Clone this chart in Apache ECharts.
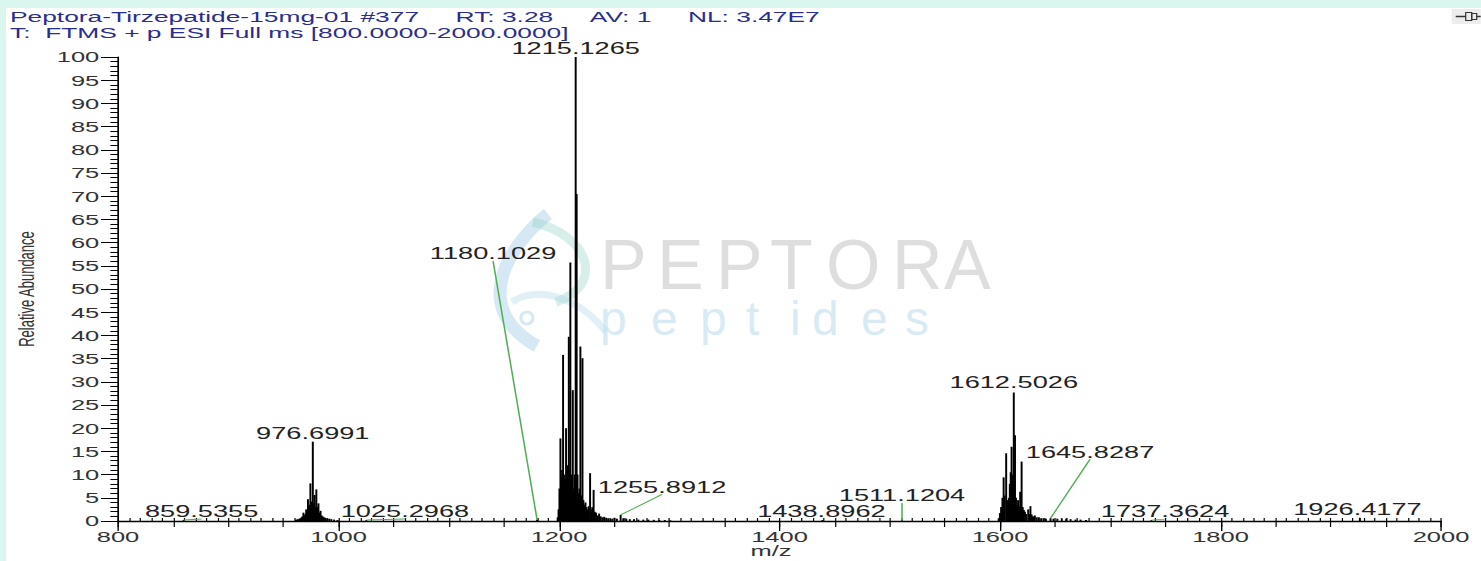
<!DOCTYPE html>
<html>
<head>
<meta charset="utf-8">
<script src="https://cdn.jsdelivr.net/npm/echarts@6/dist/echarts.min.js"></script>
<style>
html,body{margin:0;padding:0;width:1481px;height:561px;overflow:hidden;background:#d9f7ef;}
#panel{position:absolute;left:6px;top:8px;right:0;bottom:0;background:#ffffff;}
#chart{position:absolute;left:0;top:0;width:871px;height:561px;transform-origin:0 0;transform:scaleX(1.700344);}
</style>
</head>
<body>
<div id="panel"></div>
<div id="chart"></div>
<script>
// ---------------- DATA ----------------
const titleLine1 = 'Peptora-Tirzepatide-15mg-01 #377\u00a0\u00a0\u00a0\u00a0\u00a0RT: 3.28\u00a0\u00a0\u00a0\u00a0\u00a0AV: 1\u00a0\u00a0\u00a0\u00a0\u00a0NL: 3.47E7';
const titleLine2 = 'T:\u00a0 FTMS + p ESI Full ms [800.0000-2000.0000]';
const xAxisName = 'm/z';
const yAxisName = 'Relative Abundance';
const xRange = [800, 2000];
const xLabelStep = 200;
const yRange = [0, 100];
const yLabelStep = 5;
const watermarkWord = 'PEPTORA';
const watermarkSub = 'peptides';

// [m/z, relative abundance]
const cluster976 = [
  [961.5,0.3],[963.0,0.4],[964.5,0.5],[965.6,0.6],[966.5,0.8],[967.3,1.0],[968.2,1.8],[969.1,1.2],
  [970.0,1.5],[970.7,2.5],[971.5,1.6],[972.3,4.7],[973.1,3.0],[973.8,3.5],[974.5,8.1],[975.3,3.2],
  [975.9,4.2],[976.6991,17.1],[977.5,3.8],[978.3,5.6],[979.0,3.0],[979.9,6.8],[980.8,3.0],[981.8,3.8],
  [982.7,1.8],[983.7,2.2],[984.6,1.2],[985.6,1.0],[986.8,0.8],[988.2,0.7],[989.8,0.5],[991.6,0.5],
  [993.5,0.4],[996.0,0.3],[999.0,0.2]
];
const cluster1215 = [
  [1198.8,0.8],[1199.6,2.5],[1200.4,7.0],[1201.3,17.8],[1202.0,9.0],[1202.8,11.0],[1203.7,35.8],
  [1204.5,10.0],[1205.3,9.0],[1206.4,20.0],[1207.2,10.0],[1208.0,12.0],[1208.9,39.7],[1209.6,11.0],
  [1210.3,55.7],[1211.1,10.0],[1211.8,8.0],[1212.5,28.2],[1213.3,7.0],[1214.2,10.0],[1215.1265,100],
  [1216.0,70.5],[1216.8,10.0],[1217.6,6.0],[1218.5,7.0],[1219.4,37.6],[1220.3,5.5],[1221.3,35.1],
  [1222.1,4.5],[1223.0,3.5],[1224.0,4.0],[1225.0,3.0],[1226.0,2.5],[1227.0,3.2],[1228.2,10.3],
  [1229.2,2.5],[1230.2,3.0],[1231.4,6.7],[1232.4,2.0],[1233.6,1.8],[1235.0,1.2],[1236.4,1.6],
  [1237.8,1.0],[1239.4,0.8],[1241.0,0.9],[1242.8,0.7],[1244.6,0.6],[1246.5,0.6],[1248.4,0.5],
  [1250.3,0.7],[1252.5,0.5],[1255.8912,1.3],[1258.3,0.6],[1261.0,0.5],[1264.2,0.4],[1268.0,0.4],
  [1272.0,0.3],[1276.5,0.3],[1281.0,0.3],[1286.0,0.25],[1291.0,0.2],[1296.0,0.2],[1301.0,0.15]
];
const cluster1612 = [
  [1598.8,0.6],[1599.9,1.7],[1601.0,3.0],[1602.2,5.0],[1603.3,9.4],[1604.2,5.5],[1605.6,14.6],
  [1606.4,4.5],[1607.2,3.8],[1608.0,5.0],[1608.9,8.0],[1609.7,10.5],[1610.5,16.0],[1611.4,10.0],
  [1612.5026,27.7],[1613.6,18.5],[1614.5,5.0],[1615.4,3.5],[1616.4,4.5],[1617.3,3.0],[1618.3,6.3],
  [1619.6,12.8],[1620.6,3.0],[1621.6,2.4],[1622.6,2.0],[1623.8,1.5],[1625.6,2.5],[1626.6,1.5],
  [1627.6,3.2],[1628.7,1.4],[1630.0,1.0],[1631.6,1.2],[1633.4,0.8],[1635.3,0.8],[1637.3,0.6],
  [1639.4,0.6],[1641.6,0.5],[1645.8287,0.6],[1648.5,0.5],[1652.0,0.5],[1656.0,0.6],[1660.0,0.5],
  [1664.0,0.4],[1668.5,0.3],[1673.0,0.3],[1678.0,0.2]
];
const isolatedPeaks = [
  [859.5355,0.2],[1025.2968,0.2],[1180.1029,0.3],[1438.8962,0.2],[1511.1204,0.1],[1737.3624,0.2],[1926.4177,0.7]
];
// peaks that carry an m/z label
const annotatedMz = [976.6991, 1215.1265, 1612.5026, 1180.1029, 1255.8912, 1645.8287,
                     1511.1204, 1438.8962, 859.5355, 1025.2968, 1737.3624, 1926.4177];

// ---------------- STYLE / LAYOUT ----------------
const S = 1481 / 871;               // horizontal stretch of the original screenshot
const FONT = '"Liberation Sans", Arial, Helvetica, sans-serif';
// label centre offset from the peak top, in reference pixels [dx, dy]
const labelOffsetsRef = [
  [0,-8],[0,-8],[0,-9.5],[-44,-265.6],[41.4,-27.5],[39.5,-66],
  [0,-24.5],[-1,-8],[18,-8],[38.6,-8],[13.6,-8],[-2.4,-8]
];
const wmLetterLefts = [600, 657, 716, 770, 826, 892, 944];
const wmSubLefts = [600, 651, 700, 746, 790, 812, 861, 905];

const sticks = [].concat(cluster976, cluster1215, cluster1612, isolatedPeaks).sort((a,b)=>a[0]-b[0]);
const intensityOf = mz => (sticks.find(p => Math.abs(p[0]-mz) < 1e-6) || [mz,0])[1];
const labelData = annotatedMz.map(mz => [mz, intensityOf(mz)]);

const chart = echarts.init(document.getElementById('chart'), null, {renderer:'svg'});

const wmChildren = [];
// logo swirl (approximate)
wmChildren.push({type:'bezierCurve', shape:{x1:548,y1:214,cpx1:515,cpy1:240,cpx2:465,cpy2:305,x2:537,y2:346}, style:{stroke:'rgba(165,205,228,0.45)', lineWidth:13, fill:null}});
wmChildren.push({type:'bezierCurve', shape:{x1:533,y1:222,cpx1:592,cpy1:236,cpx2:604,cpy2:286,x2:556,y2:302}, style:{stroke:'rgba(140,205,195,0.35)', lineWidth:9, fill:null}});
wmChildren.push({type:'bezierCurve', shape:{x1:512,y1:302,cpx1:540,cpy1:284,cpx2:582,cpy2:300,x2:606,y2:332}, style:{stroke:'rgba(165,212,228,0.35)', lineWidth:7, fill:null}});
wmChildren.push({type:'circle', shape:{cx:527,cy:318,r:6}, style:{stroke:'rgba(165,205,228,0.45)', lineWidth:3, fill:null}});
watermarkWord.split('').forEach((ch,i)=>{
  wmChildren.push({type:'text', x:wmLetterLefts[i], y:265, style:{text:ch, font:'70px '+FONT, fill:'rgba(190,190,190,0.5)', textAlign:'left', textVerticalAlign:'middle'}});
});
watermarkSub.split('').forEach((ch,i)=>{
  wmChildren.push({type:'text', x:wmSubLefts[i], y:318, style:{text:ch, font:'48px '+FONT, fill:'rgba(190,220,235,0.6)', textAlign:'left', textVerticalAlign:'middle'}});
});
// small pin icon, top right
const iconChildren = [
  {type:'rect', shape:{x:1452,y:9,width:29,height:15}, style:{fill:'#ececec'}},
  {type:'line', shape:{x1:1456,y1:16.5,x2:1466,y2:16.5}, style:{stroke:'#333', lineWidth:1.5}},
  {type:'rect', shape:{x:1466,y:12.5,width:6,height:8}, style:{fill:'none', stroke:'#333', lineWidth:1.2}},
  {type:'rect', shape:{x:1472,y:13.5,width:5,height:6}, style:{fill:'none', stroke:'#333', lineWidth:1.2}},
  {type:'line', shape:{x1:1477,y1:16.5,x2:1481,y2:16.5}, style:{stroke:'#333', lineWidth:1.5}}
];

const tickLine = {color:'#000', width:1};
const commonX = {type:'value', min:xRange[0], max:xRange[1], position:'bottom', gridIndex:0,
  splitLine:{show:false}, axisLabel:{show:false}, axisLine:{show:false}};

const option = {
  animation:false,
  backgroundColor:'transparent',
  textStyle:{fontFamily:FONT},
  grid:{left:118/S, right:871-1441/S, top:57, bottom:40, containLabel:false, outerBoundsMode:'none'},
  xAxis:[
    Object.assign({}, commonX, {interval:10, axisLine:{show:true, lineStyle:{color:'#000', width:1.3}},
      axisTick:{show:true, inside:true, length:3, lineStyle:{color:'#000', width:0.7}}}),
    Object.assign({}, commonX, {interval:50, axisTick:{show:true, length:6, lineStyle:{color:'#000', width:0.7}}}),
    Object.assign({}, commonX, {interval:xLabelStep, axisTick:{show:true, length:10, lineStyle:{color:'#000', width:0.8}},
      axisLabel:{show:true, margin:8, fontSize:15, color:'#333', fontFamily:FONT, formatter:v => String(v)}})
  ],
  yAxis:[{
    type:'value', min:yRange[0], max:yRange[1], interval:yLabelStep,
    axisLine:{show:true, lineStyle:{color:'#000', width:1}},
    axisTick:{show:true, length:10, lineStyle:tickLine},
    minorTick:{show:true, splitNumber:5, length:4.5, lineStyle:tickLine},
    splitLine:{show:false}, minorSplitLine:{show:false},
    axisLabel:{margin:11, fontSize:15, color:'#333', fontFamily:FONT, formatter:v => String(v)},
    name:yAxisName, nameLocation:'middle', nameGap:44,
    nameTextStyle:{fontSize:13, color:'#333', fontFamily:FONT}
  }],
  graphic:[
    {type:'group', x:0, y:0, scaleX:1/S, z:0, silent:true, children:wmChildren.concat(iconChildren)},
    {type:'text', x:10/S, y:17, z:10, style:{text:titleLine1, font:'15.5px '+FONT, fill:'#2b2d8e', textVerticalAlign:'middle'}},
    {type:'text', x:10/S, y:33, z:10, style:{text:titleLine2, font:'15.5px '+FONT, fill:'#2b2d8e', textVerticalAlign:'middle'}},
    {type:'text', x:771/S, y:551, z:10, style:{text:xAxisName, font:'15px '+FONT, fill:'#333', textAlign:'center', textVerticalAlign:'middle'}}
  ],
  series:[
    {
      type:'custom', name:'spectrum', xAxisIndex:2, yAxisIndex:0, data:sticks, encode:{x:0, y:1},
      clip:false, silent:true, z:5,
      renderItem:(params, api)=>{
        const x = api.value(0), y = api.value(1);
        const top = api.coord([x, y]);
        const base = api.coord([x, 0]);
        return {type:'line', shape:{x1:top[0], y1:base[1], x2:top[0], y2:top[1]},
                style:{stroke:'#000', lineWidth:1.15}};
      }
    },
    {
      type:'custom', name:'labels', xAxisIndex:2, yAxisIndex:0, data:labelData, encode:{x:0, y:1},
      clip:false, silent:true, z:6,
      renderItem:(params, api)=>{
        const i = params.dataIndex;
        const x = api.value(0), y = api.value(1);
        const p = api.coord([x, y]);
        const off = labelOffsetsRef[i];
        const cx = p[0] + off[0]/S, cy = p[1] + off[1];
        const children = [];
        if (Math.abs(off[0]) > 5 || off[1] < -15) {
          children.push({type:'line', shape:{x1:p[0], y1:p[1], x2:cx, y2:cy+7},
                         style:{stroke:'#4cb050', lineWidth:0.9}});
        }
        children.push({type:'text', style:{text:x.toFixed(4), x:cx, y:cy, textAlign:'center',
                       textVerticalAlign:'middle', font:'16px '+FONT, fill:'#222'}});
        return {type:'group', children};
      }
    }
  ]
};
chart.setOption(option);
</script>
</body>
</html>
